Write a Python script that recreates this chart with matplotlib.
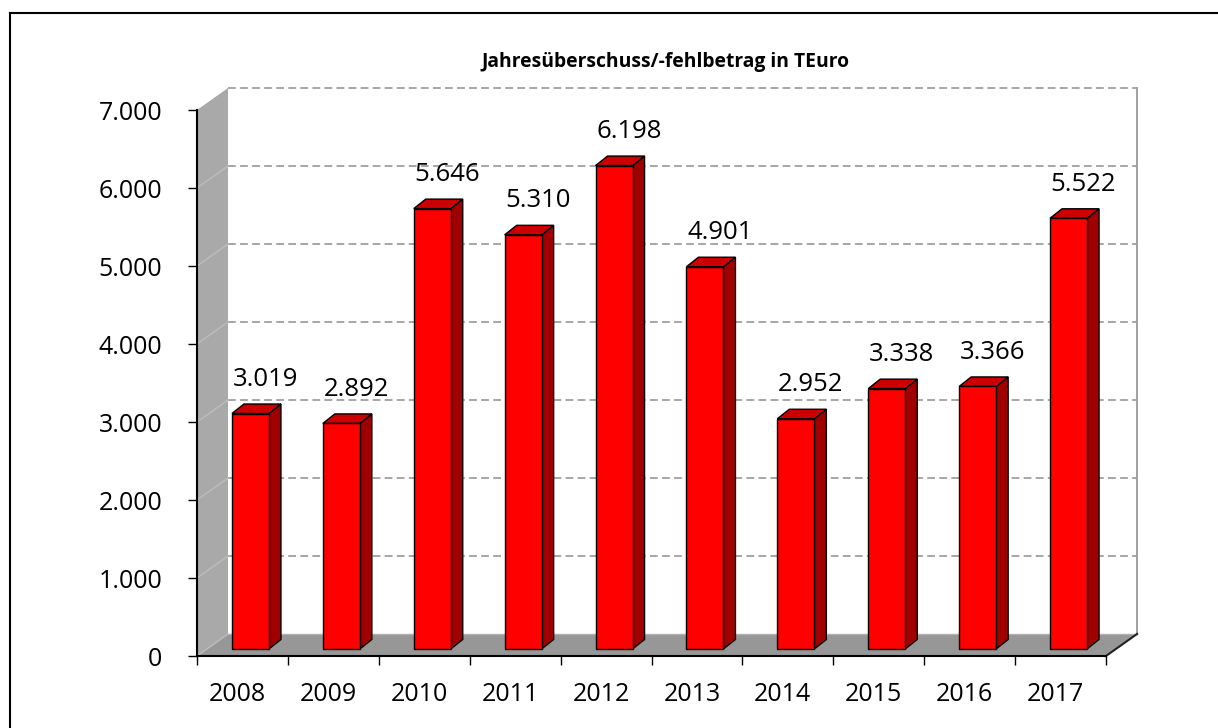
import matplotlib
matplotlib.use("Agg")
import matplotlib.pyplot as plt
from matplotlib.patches import Polygon
from matplotlib.lines import Line2D

# ---- data ----
years = ["2008", "2009", "2010", "2011", "2012", "2013", "2014", "2015", "2016", "2017"]
values = [3019, 2892, 5646, 5310, 6198, 4901, 2952, 3338, 3366, 5522]
yticks = [0, 1000, 2000, 3000, 4000, 5000, 6000, 7000]
title = "Jahresüberschuss/-fehlbetrag in TEuro"

def de(v):
    return f"{v:,}".replace(",", ".")

W, H, DPI = 1218, 728, 100
fig = plt.figure(figsize=(W / DPI, H / DPI), dpi=DPI)
ax = fig.add_axes([0, 0, 1, 1])

# pixel geometry of the plot (front axis box)
X0_PX, PX_CAT = 197.0, 90.9        # left of category axis, px per category
Y0_PX, PX_VAL = 656.0, 0.078       # baseline (value 0) px, px per value unit
n = len(years)
ax.set_xlim((0 - X0_PX) / PX_CAT - 0.5, (W - X0_PX) / PX_CAT - 0.5)
ax.set_ylim((Y0_PX - H) / PX_VAL, Y0_PX / PX_VAL)

cx = lambda px: px / PX_CAT      # px -> category units
cy = lambda px: px / PX_VAL      # px -> value units

DXW, DYW = cx(31), cy(22)        # wall depth
BFX, BFY = cx(8), cy(7)          # bar front offset
BDX, BDY = cx(12), cy(9.5)       # bar depth
BW = cx(37)                      # bar width
ymax = yticks[-1]
xl, xr = -0.5, n - 0.5

grid_c = "#a6a6a6"
# back wall gridlines
for v in yticks[1:]:
    ax.plot([xl + DXW, xr + DXW], [v + DYW, v + DYW], color=grid_c, lw=1.4,
            ls=(0, (4, 2.2)), zorder=1)
# back wall right edge
ax.plot([xr + DXW, xr + DXW], [DYW, ymax + DYW], color="#a0a0a0", lw=1.4, zorder=1)

# side wall
ax.add_patch(Polygon([(xl, 0), (xl + DXW, DYW), (xl + DXW, ymax + DYW), (xl, ymax)],
                     closed=True, fc="#a9a9a9", ec="none", zorder=2))
for v in yticks[:-1]:
    ax.plot([xl, xl + DXW], [v, v + DYW], color="#bdbdbd", lw=1.0, zorder=2.1)

# floor
ax.add_patch(Polygon([(xl, 0), (xr, 0), (xr + DXW, DYW), (xl + DXW, DYW)],
                     closed=True, fc="#979797", ec="none", zorder=2))
ax.plot([xl + DXW, xr + DXW], [DYW, DYW], color="#b0b0b0", lw=1.0, zorder=2.1)
ax.plot([xr, xr + DXW], [0, DYW], color="#222222", lw=1.5, zorder=2.2)

# bars
for i, v in enumerate(values):
    l = i - BW / 2 + BFX
    r = i + BW / 2 + BFX
    b = BFY
    t = v + BFY
    ax.add_patch(Polygon([(r, b), (r + BDX, b + BDY), (r + BDX, t + BDY), (r, t)],
                         closed=True, fc="#a00000", ec="black", lw=1.0, zorder=3))
    ax.add_patch(Polygon([(l, t), (r, t), (r + BDX, t + BDY), (l + BDX, t + BDY)],
                         closed=True, fc="#cc0000", ec="black", lw=1.0, zorder=3))
    ax.add_patch(Polygon([(l, b), (r, b), (r, t), (l, t)],
                         closed=True, fc="#ff0000", ec="black", lw=1.0, zorder=3.1))
    ax.text(i + BFX + cx(15), t + cy(34), de(v), ha="center", va="center",
            fontsize=18.5, family="Open Sans", zorder=4)

# axes: spines and ticks
for s in ["top", "right"]:
    ax.spines[s].set_visible(False)
ax.spines["left"].set_position(("data", xl))
ax.spines["left"].set_bounds(0, ymax)
ax.spines["bottom"].set_position(("data", 0))
ax.spines["bottom"].set_bounds(xl, xr)
for s in ["left", "bottom"]:
    ax.spines[s].set_linewidth(1.5)
    ax.spines[s].set_zorder(5)
ax.set_yticks(yticks)
ax.set_yticklabels([de(v) for v in yticks], fontsize=18, family="Open Sans")
ax.tick_params(axis="y", direction="out", length=6.5, width=1.0, pad=18.5)
ax.set_xticks([i - 0.5 for i in range(n + 1)])
ax.set_xticklabels([])
ax.set_xticks([i - cx(5) for i in range(n)], minor=True)
ax.set_xticklabels(years, minor=True, fontsize=18, family="Open Sans")
ax.tick_params(axis="x", which="major", direction="out", length=6.5, width=1.0)
ax.tick_params(axis="x", which="minor", length=0, pad=19)
ax.set_facecolor("white")

# title
fig.text(665 / W, 1 - 62 / H, title, ha="center", va="center", fontsize=13.9,
         fontweight="bold", family="Open Sans")

# outer frame (top and left edges visible)
fig.add_artist(Line2D([10 / W, 10 / W], [1 - 13 / H, -0.1], color="black", lw=1.5,
                      transform=fig.transFigure))
fig.add_artist(Line2D([10 / W, 1.1], [1 - 13 / H, 1 - 13 / H], color="black", lw=1.5,
                      transform=fig.transFigure))

fig.savefig("out.png", dpi=DPI)
